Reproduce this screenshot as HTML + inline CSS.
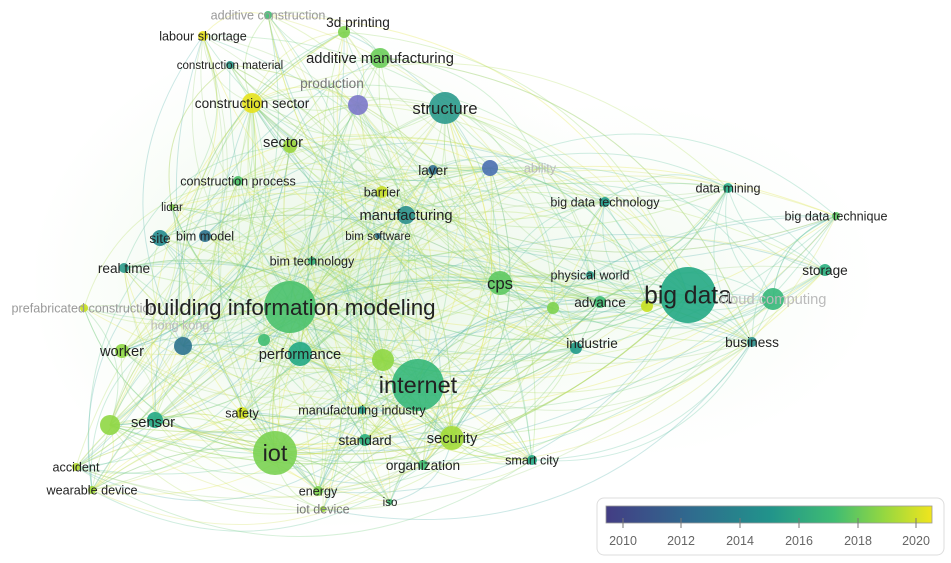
<!DOCTYPE html>
<html><head><meta charset="utf-8"><style>
html,body{margin:0;padding:0;background:#fff;}
svg{display:block;font-family:"Liberation Sans","DejaVu Sans",sans-serif;}
</style></head><body>
<svg id="s" width="951" height="563" viewBox="0 0 951 563">
<defs>
<linearGradient id="vir" x1="0" x2="1">
<stop offset="0" stop-color="#433d84"/><stop offset="0.25" stop-color="#30698e"/>
<stop offset="0.5" stop-color="#21938b"/><stop offset="0.7" stop-color="#3fbc73"/>
<stop offset="0.85" stop-color="#93d741"/><stop offset="1" stop-color="#f1e51d"/>
</linearGradient>
<radialGradient id="haze" cx="0.5" cy="0.5" r="0.5">
<stop offset="0" stop-color="#a8dca0" stop-opacity="0.3"/><stop offset="1" stop-color="#c8ecc0" stop-opacity="0"/>
</radialGradient>
</defs>
<ellipse cx="330" cy="280" rx="300" ry="250" fill="url(#haze)"/>
<ellipse cx="620" cy="280" rx="260" ry="180" fill="url(#haze)" opacity="0.5"/>
<g id="edges" fill="none" stroke-width="1"></g>
<g id="nodes"></g>
<g id="labels"></g>
<rect x="597" y="498" width="347" height="57" rx="7" fill="#fff" stroke="#ddd"/>
<rect x="606" y="506" width="326" height="17" fill="url(#vir)" stroke="#999" stroke-width="0.8"/>
<g stroke="#777" stroke-width="1">
<line x1="623" y1="518" x2="623" y2="528"/><line x1="681" y1="518" x2="681" y2="528"/><line x1="740" y1="518" x2="740" y2="528"/><line x1="799" y1="518" x2="799" y2="528"/><line x1="858" y1="518" x2="858" y2="528"/><line x1="916" y1="518" x2="916" y2="528"/>
</g>
<g font-size="12.5" fill="#666" text-anchor="middle">
<text x="623" y="545">2010</text><text x="681" y="545">2012</text><text x="740" y="545">2014</text><text x="799" y="545">2016</text><text x="858" y="545">2018</text><text x="916" y="545">2020</text>
</g>
</svg>
<script>
var N=[
["additive construction",268,15,4,"#3fbc73",12,"#999"],
["3d printing",358,22,6,"#7ed34f",13,"#222",344,32],
["labour shortage",203,36,5,"#e8e21c",12,"#222"],
["additive manufacturing",380,58,10,"#6ccd5a",14,"#222"],
["construction material",230,65,4,"#2a9a8a",11,"#222"],
["production",332,83,0,"#666",13,"#777"],
["",358,105,10,"#7b78c9",0,""],
["construction sector",252,103,10,"#e6e21c",13,"#222"],
["structure",445,108,16,"#2a9a8c",16,"#222"],
["sector",283,142,7,"#9ad63c",14,"#222",290,146],
["layer",433,170,5,"#2f6f8e",13,"#222"],
["",490,168,8,"#4a6fb0",0,""],
["ability",540,168,0,"#aaa",12,"#bbb"],
["construction process",238,181,5,"#4cc26a",12,"#222"],
["barrier",382,192,6,"#c9df2a",12,"#222"],
["lidar",172,207,3,"#7ed34f",11,"#222"],
["manufacturing",406,215,9,"#2a8f8c",14,"#222"],
["data mining",728,188,5,"#2ab08a",12,"#222"],
["big data technology",605,202,5,"#1e9b8a",12,"#222"],
["big data technique",836,216,4,"#5cc863",12,"#222"],
["site",160,238,8,"#23898e",13,"#222"],
["bim model",205,236,6,"#2c728e",12,"#222"],
["bim software",378,236,3,"#2c728e",11,"#222"],
["bim technology",312,261,4,"#33b07a",12,"#222"],
["real time",124,268,5,"#2a9a8a",13,"#222"],
["storage",825,270,6,"#2ab07f",13,"#222"],
["cps",500,283,12,"#5ec962",16,"#222"],
["physical world",590,275,4,"#2a9a8a",12,"#222"],
["big data",688,295,28,"#22a884",22,"#222"],
["advance",600,302,6,"#3fbc73",13,"#222"],
["cloud computing",773,299,11,"#35b779",14,"#bbb"],
["prefabricated construction",84,308,4,"#c8e020",12,"#999"],
["building information modeling",290,307,26,"#4ac16d",20,"#222"],
["hong kong",180,325,0,"#999",12,"#bbb"],
["",183,346,9,"#2c728e",0,""],
["industrie",592,343,6,"#1f9a8a",13,"#222",576,348],
["business",752,342,5,"#2a8f8c",13,"#222"],
["worker",122,351,7,"#8fd744",14,"#222"],
["performance",300,354,12,"#22a884",14,"#222"],
["",383,360,11,"#8fd744",0,""],
["internet",418,385,26,"#35b779",21,"#222"],
["sensor",153,422,10,"#8fd744",14,"#222",110,425],
["",155,420,8,"#22a884",0,""],
["",264,340,6,"#3fbc73",0,""],
["safety",242,413,6,"#d0e11c",12,"#222"],
["manufacturing industry",362,410,4,"#1f9a8a",12,"#222"],
["iot",275,453,22,"#7ad151",21,"#222"],
["standard",365,440,6,"#2ab07f",13,"#222"],
["security",452,438,12,"#a2da37",14,"#222"],
["organization",423,465,5,"#3fbc73",13,"#222"],
["smart city",532,460,5,"#22a884",12,"#222"],
["accident",76,467,4,"#b5de2b",12,"#222"],
["wearable device",92,490,4,"#a2da37",12,"#222"],
["energy",318,491,5,"#7ed34f",12,"#222"],
["iot device",323,509,3,"#9ad63c",12,"#777"],
["iso",390,502,3,"#3fbc73",11,"#222"],
["",553,308,6,"#7ed34f",0,""],
["",647,306,6,"#c8e020",0,""]
];
var ns="http://www.w3.org/2000/svg";
var E=document.getElementById("edges"),G=document.getElementById("nodes"),L=document.getElementById("labels");
var seed=7;function r(){seed=(seed*16807)%2147483647;return seed/2147483647;}
var cols=["#9cd96e","#b8e06a","#6cc7a0","#7fd08a","#d8e46a","#5fb9b0","#a9d88a","#e2e54a"];
var P=N.map(function(n){return [n[7]||n[1],n[8]||n[2],n[3]];});
for(var k=0;k<750;k++){
 var a=Math.floor(r()*P.length),b=Math.floor(r()*P.length);
 if(a==b)continue;
 if(P[a][2]+P[b][2]<14 && r()<0.6)continue;
 var x1=P[a][0],y1=P[a][1],x2=P[b][0],y2=P[b][1];
 var mx=(x1+x2)/2,my=(y1+y2)/2,dx=x2-x1,dy=y2-y1,c=0.32;
 var cx=mx-dy*c,cy=my+dx*c;
 var p=document.createElementNS(ns,"path");
 p.setAttribute("d","M"+x1+","+y1+"Q"+cx+","+cy+" "+x2+","+y2);
 var col=cols[Math.floor(r()*cols.length)];
 if(x1>480&&x2>480)col="#6cc7a8";
 p.setAttribute("stroke",col);p.setAttribute("stroke-opacity",0.32);
 E.appendChild(p);
}
N.forEach(function(n){
 var x=n[7]||n[1],y=n[8]||n[2];
 if(n[3]>0){var c=document.createElementNS(ns,"circle");c.setAttribute("cx",x);c.setAttribute("cy",y);c.setAttribute("r",n[3]);c.setAttribute("fill",n[4]);c.setAttribute("fill-opacity",0.9);G.appendChild(c);}
 if(n[0]){var fs=n[5]*(n[5]>=18?1.12:1.05);var t=document.createElementNS(ns,"text");t.setAttribute("x",n[1]);t.setAttribute("y",n[2]+fs*0.35);t.setAttribute("text-anchor","middle");t.setAttribute("font-size",fs);t.setAttribute("fill",n[6]);t.textContent=n[0];L.appendChild(t);}
});
</script>
</body></html>
